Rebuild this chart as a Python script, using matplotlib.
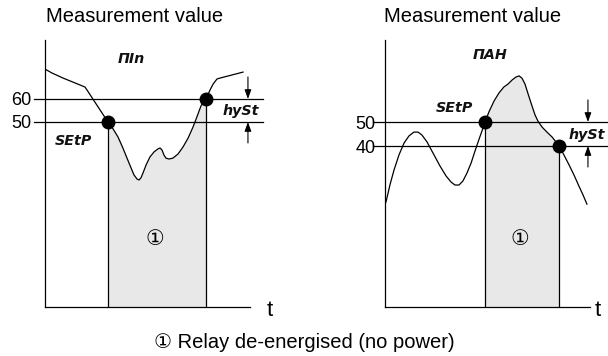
import numpy as np
import matplotlib
matplotlib.use("Agg")
import matplotlib.pyplot as plt

plt.rcParams['font.family'] = ['Liberation Sans', 'DejaVu Sans', 'Noto Sans CJK JP']

# --- MIN alarm: measured value over time -------------------------------
min_t = [0.00, 0.34, 0.88, 1.46, 1.95, 2.05, 3.07, 3.32, 3.56, 3.80, 4.00,
         4.20, 4.34, 4.49, 4.59, 4.68, 4.78, 4.93, 5.12, 5.32, 5.51, 5.61,
         5.71, 5.80, 5.90, 6.05, 6.24, 6.49, 6.73, 6.98, 7.22, 7.41, 7.61,
         7.76, 7.85, 8.05, 8.20, 8.39, 8.54, 9.66]
min_v = [73.0, 71.3, 69.1, 67.0, 65.2, 63.9, 50.0, 47.0, 43.5, 38.7, 34.3,
         30.0, 27.0, 25.2, 24.8, 25.7, 27.8, 31.3, 34.8, 37.0, 38.3, 38.7,
         37.8, 35.7, 34.3, 33.9, 34.3, 36.1, 39.1, 43.0, 47.8, 52.2, 57.0,
         59.1, 60.0, 63.9, 66.5, 68.7, 69.1, 71.7]

# --- MAX alarm: measured value over time -------------------------------
max_t = [0.05, 0.24, 0.44, 0.68, 0.93, 1.17, 1.41, 1.61, 1.80, 2.05, 2.34,
         2.68, 2.98, 3.22, 3.41, 3.61, 3.80, 4.00, 4.20, 4.39, 4.59, 4.73,
         4.88, 5.07, 5.32, 5.56, 5.80, 6.00, 6.20, 6.39, 6.54, 6.68, 6.83,
         6.98, 7.17, 7.32, 7.46, 7.66, 7.90, 8.15, 8.34, 8.49, 8.73, 8.98,
         9.22, 9.46, 9.66, 9.85]
max_v = [16.7, 23.75, 30.0, 36.25, 41.25, 44.2, 45.8, 45.8, 44.6, 41.7, 37.1,
         31.7, 27.5, 25.0, 23.75, 23.75, 25.4, 28.75, 32.9, 37.9, 42.9, 46.25,
         50.0, 54.2, 58.75, 62.1, 64.6, 65.8, 67.5, 68.75, 69.2, 68.3, 65.8,
         61.7, 56.7, 52.9, 50.4, 47.9, 45.8, 43.75, 41.7, 40.0, 36.25, 32.1,
         27.9, 23.3, 19.6, 15.8]

# Setpoint / hysteresis levels and the moments the relay switches
min_levels = [50, 60]          # SEtP, SEtP + hySt
max_levels = [50, 40]          # SEtP, SEtP - hySt
min_switch_t = [3.07, 7.85]
max_switch_t = [4.88, 8.49]

min_mode_label = "ΠIn"
max_mode_label = "ΠAH"
setp_label = "SEtP"
hyst_label = "hySt"
axis_title = "Measurement value"
relay_mark = "①"
footer = "① Relay de-energised (no power)"

SEG = dict(family='DejaVu Sans', fontweight='bold', style='oblique',
           fontsize=10.3, color='#111111')

fig = plt.figure(figsize=(6.08, 3.56), dpi=100)
fig.patch.set_facecolor('white')


def draw_panel(ax, t, v, levels, switch_t, ylim, line_span, tick_pad,
               mode_label, mode_xy, setp_xy, hyst_xy, hyst_ha, arrow_y,
               mark_xy, t_x):
    t = np.asarray(t)
    v = np.asarray(v)
    ax.set_xlim(0, 10)
    ax.set_ylim(*ylim)
    for side in ('top', 'right'):
        ax.spines[side].set_visible(False)
    for side in ('left', 'bottom'):
        ax.spines[side].set_linewidth(0.9)
    ax.set_xticks([])
    ax.set_yticks(sorted(levels))
    ax.set_yticklabels([str(l) for l in sorted(levels)], fontsize=13)
    ax.tick_params(axis='y', length=0, pad=tick_pad)

    # relay de-energised area
    on = (t >= switch_t[0]) & (t <= switch_t[1])
    ax.fill_between(t, v, ylim[0], where=on, color='#e8e8e8', lw=0, zorder=1)
    for st, lv in zip(switch_t, levels):
        ax.plot([st, st], [ylim[0], lv], color='black', lw=0.9, zorder=2)

    # setpoint and hysteresis lines
    for lv in levels:
        ax.plot(line_span, [lv, lv], color='black', lw=0.9, clip_on=False,
                zorder=2)

    ax.plot(t, v, color='black', lw=0.9, zorder=3)
    ax.plot(switch_t, levels, 'o', color='black', ms=9, zorder=4,
            clip_on=False)

    # hysteresis arrows pointing at the two levels
    arrow = dict(arrowstyle='-|>,head_length=0.55,head_width=0.2',
                 lw=0.8, color='black', shrinkA=0, shrinkB=0)
    ax.annotate('', xy=(9.9, max(levels)), xytext=(9.9, arrow_y[0]),
                arrowprops=arrow, annotation_clip=False)
    ax.annotate('', xy=(9.9, min(levels)), xytext=(9.9, arrow_y[1]),
                arrowprops=arrow, annotation_clip=False)

    ax.text(*mode_xy, mode_label, ha='center', va='center', **SEG)
    ax.text(*setp_xy, setp_label, ha='center', va='center', **SEG)
    ax.text(*hyst_xy, hyst_label, ha=hyst_ha, va='center', clip_on=False,
            **SEG)
    ax.text(*mark_xy, relay_mark, ha='center', va='center', fontsize=15,
            family=['DejaVu Sans', 'Noto Sans CJK JP'])
    ax.text(t_x, -0.012, 't', transform=ax.transAxes, ha='center',
            va='center', fontsize=16)


ax1 = fig.add_axes([45 / 608, 1 - 307 / 356, 205 / 608, 267 / 356])
draw_panel(ax1, min_t, min_v, min_levels, min_switch_t,
           ylim=(-30.43, 85.65), line_span=[-0.54, 10.63], tick_pad=10,
           mode_label=min_mode_label, mode_xy=(4.2, 77.4),
           setp_xy=(1.41, 41.7), hyst_xy=(9.56, 54.8), hyst_ha='center',
           arrow_y=(69.6, 40.9), mark_xy=(5.37, -0.9), t_x=1.098)

ax2 = fig.add_axes([385 / 608, 1 - 307 / 356, 205 / 608, 267 / 356])
draw_panel(ax2, max_t, max_v, max_levels, max_switch_t,
           ylim=(-27.08, 84.17), line_span=[-0.59, 11.0], tick_pad=7,
           mode_label=max_mode_label, mode_xy=(5.12, 77.9),
           setp_xy=(3.41, 56.0), hyst_xy=(8.93, 44.6), hyst_ha='left',
           arrow_y=(59.2, 31.25), mark_xy=(6.59, 1.25), t_x=1.039)

fig.text(135 / 608, 1 - 16 / 356, axis_title, ha='center', va='center',
         fontsize=14.5)
fig.text(473 / 608, 1 - 16 / 356, axis_title, ha='center', va='center',
         fontsize=14.5)
fig.text(304 / 608, 1 - 343 / 356, footer, ha='center', va='center',
         fontsize=14.5)

fig.savefig('out.png', dpi=100, facecolor='white')
